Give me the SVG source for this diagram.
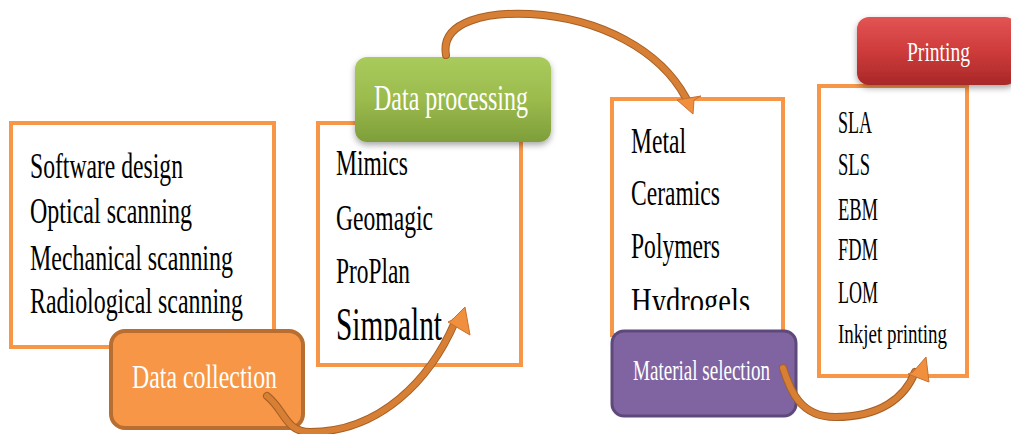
<svg xmlns="http://www.w3.org/2000/svg" width="1011" height="434" viewBox="0 0 1011 434">
<style>
.box{fill:#fff;stroke:#F79646;stroke-width:4}
.t{font-family:"Liberation Serif","Times New Roman",serif;fill:#000}
.lbl{font-family:"Liberation Serif","Times New Roman",serif;fill:#fff}
.arr{fill:none;stroke:#D67F35;stroke-width:6;stroke-linecap:round}
.arrEdge{fill:none;stroke:#A65F24;stroke-width:8;stroke-linecap:round}
.head{fill:#F0903F;stroke:#C87030;stroke-width:1}
</style>
<defs>
<linearGradient id="gGreen" x1="0" y1="0" x2="0" y2="1">
<stop offset="0" stop-color="#A9CB5C"/><stop offset="0.5" stop-color="#9BBB4D"/><stop offset="1" stop-color="#7E9E3A"/>
</linearGradient>
<linearGradient id="gRed" x1="0" y1="0" x2="0" y2="1">
<stop offset="0" stop-color="#E25454"/><stop offset="0.5" stop-color="#CF3B3B"/><stop offset="1" stop-color="#A82828"/>
</linearGradient>
<filter id="sh" x="-10%" y="-10%" width="120%" height="130%">
<feDropShadow dx="0" dy="3" stdDeviation="3" flood-color="#000" flood-opacity="0.35"/>
</filter>
<clipPath id="c2"><rect x="319" y="124" width="200" height="217"/></clipPath>
<clipPath id="c3"><rect x="614" y="100" width="167" height="210"/></clipPath>
</defs>

<g id="collection-list">
<rect class="box" x="11" y="123" width="263" height="224"/>
<text class="t" font-size="35" x="30" y="178" textLength="153" lengthAdjust="spacingAndGlyphs">Software design</text>
<text class="t" font-size="35" x="30" y="223" textLength="162" lengthAdjust="spacingAndGlyphs">Optical scanning</text>
<text class="t" font-size="35" x="30" y="270" textLength="203" lengthAdjust="spacingAndGlyphs">Mechanical scanning</text>
<text class="t" font-size="35" x="30" y="313" textLength="213" lengthAdjust="spacingAndGlyphs">Radiological scanning</text>
</g>

<g id="processing-list">
<rect class="box" x="318" y="123" width="203" height="242"/>
<g clip-path="url(#c2)">
<text class="t" font-size="35" x="336" y="175" textLength="72" lengthAdjust="spacingAndGlyphs">Mimics</text>
<text class="t" font-size="35" x="336" y="230" textLength="97" lengthAdjust="spacingAndGlyphs">Geomagic</text>
<text class="t" font-size="35" x="336" y="283" textLength="74" lengthAdjust="spacingAndGlyphs">ProPlan</text>
<text class="t" font-size="46" x="336" y="340" textLength="106" lengthAdjust="spacingAndGlyphs">Simpalnt</text>
</g>
</g>

<g id="material-list">
<rect class="box" x="612" y="99" width="171" height="236"/>
<g clip-path="url(#c3)">
<text class="t" font-size="35" x="631" y="153" textLength="55" lengthAdjust="spacingAndGlyphs">Metal</text>
<text class="t" font-size="35" x="631" y="205" textLength="89" lengthAdjust="spacingAndGlyphs">Ceramics</text>
<text class="t" font-size="35" x="631" y="258" textLength="89" lengthAdjust="spacingAndGlyphs">Polymers</text>
<text class="t" font-size="36" x="631" y="313" textLength="119" lengthAdjust="spacingAndGlyphs">Hydrogels</text>
</g>
</g>

<g id="printing-list">
<rect class="box" x="819" y="86" width="148" height="290"/>
<text class="t" font-size="31" x="838" y="133" textLength="34" lengthAdjust="spacingAndGlyphs">SLA</text>
<text class="t" font-size="31" x="838" y="175" textLength="32" lengthAdjust="spacingAndGlyphs">SLS</text>
<text class="t" font-size="31" x="838" y="220" textLength="40" lengthAdjust="spacingAndGlyphs">EBM</text>
<text class="t" font-size="31" x="838" y="260" textLength="40" lengthAdjust="spacingAndGlyphs">FDM</text>
<text class="t" font-size="31" x="838" y="303" textLength="40" lengthAdjust="spacingAndGlyphs">LOM</text>
<text class="t" font-size="27" x="838" y="343" textLength="109" lengthAdjust="spacingAndGlyphs">Inkjet printing</text>
</g>

<g id="data-collection">
<rect x="111" y="331" width="192" height="97" rx="14" fill="#F79646" stroke="#B86E30" stroke-width="4"/>
<text class="lbl" font-size="34" x="132" y="388" textLength="145" lengthAdjust="spacingAndGlyphs">Data collection</text>
</g>

<g id="data-processing">
<rect x="355" y="57" width="196" height="85" rx="12" fill="url(#gGreen)" filter="url(#sh)"/>
<text class="lbl" font-size="35" x="374" y="110" textLength="154" lengthAdjust="spacingAndGlyphs">Data processing</text>
</g>

<g id="material-selection">
<rect x="612" y="331" width="184" height="85" rx="12" fill="#8064A2" stroke="#5E4A7A" stroke-width="3"/>
<text class="lbl" font-size="29" x="633" y="380" textLength="137" lengthAdjust="spacingAndGlyphs">Material selection</text>
</g>

<g id="printing">
<rect x="857" y="17" width="160" height="68" rx="12" fill="url(#gRed)" filter="url(#sh)"/>
<text class="lbl" font-size="28" x="907" y="61" textLength="63" lengthAdjust="spacingAndGlyphs">Printing</text>
</g>

<g id="connectors">
<path class="arrEdge" d="M267,396 C285,410 285,432 310,432 C380,432 430,380 455,322"/>
<path class="arr" d="M267,396 C285,410 285,432 310,432 C380,432 430,380 455,322"/>
<polygon class="head" points="465,307 470,335 448,322 452,320"/>
<path class="arrEdge" d="M446,55 C440,20 490,12 530,14 C600,18 660,50 686,98"/>
<path class="arr" d="M446,55 C440,20 490,12 530,14 C600,18 660,50 686,98"/>
<polygon class="head" points="693,114 677,100 701,96 694,100"/>
<path class="arrEdge" d="M783,368 C790,390 800,417 835,417 C880,417 905,398 915,372"/>
<path class="arr" d="M783,368 C790,390 800,417 835,417 C880,417 905,398 915,372"/>
<polygon class="head" points="926,357 929,382 908,374 913,372"/>
</g>
</svg>
